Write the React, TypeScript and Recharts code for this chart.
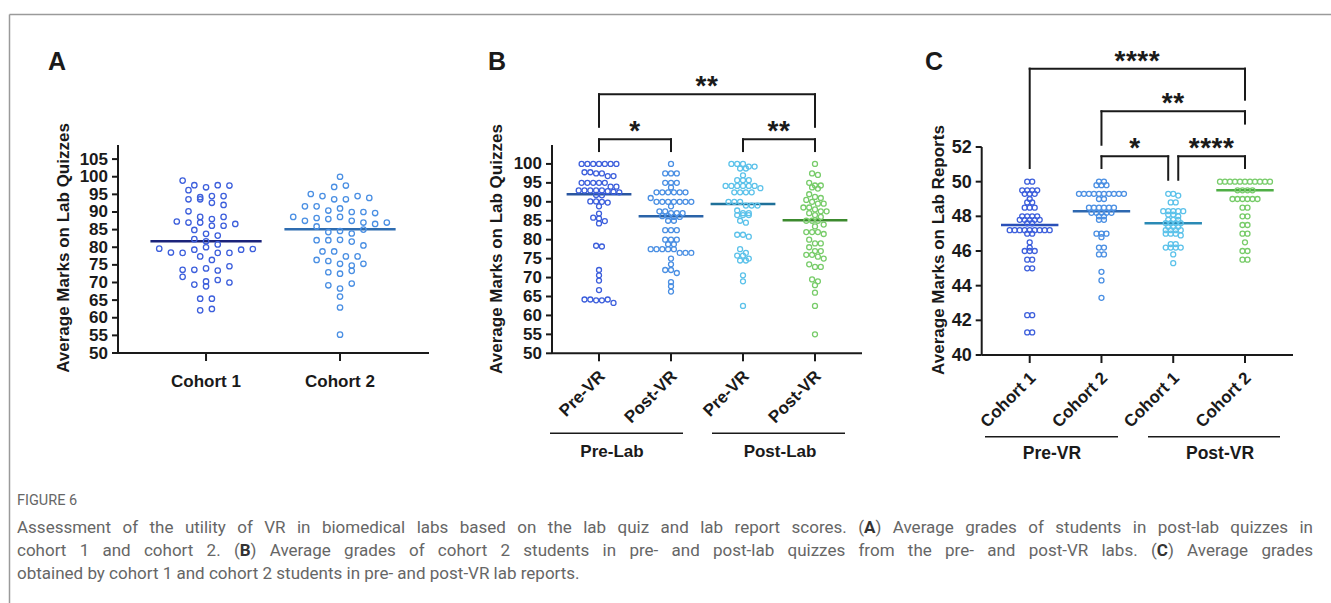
import React from "react";
import { ScatterChart, Scatter, XAxis, YAxis, ReferenceLine, ReferenceDot } from "recharts";

const FONT = "Arial, 'Liberation Sans', Helvetica, sans-serif";
const INK = "#1a1a1a";

// ---- Panel A: post-lab quiz averages by cohort ----
const quizCategories = ["Cohort 1", "Cohort 2"];
const quizCohort1 = [
  98.9, 97.6, 97.0, 97.6, 97.5, 96.2, 94.2, 93.6, 94.5, 93.6, 94.5, 92.6, 92.0, 90.2,
  88.6, 88.0, 88.6, 87.3, 87.0, 87.0, 86.1, 86.1, 86.6, 84.9, 83.8, 83.3, 82.3, 81.7,
  80.8, 79.6, 78.5, 78.4, 79.3, 80.0, 78.4, 78.4, 79.3, 79.5, 77.4, 76.4, 73.6, 73.6,
  74.0, 73.4, 74.6, 71.6, 69.4, 70.3, 68.9, 70.7, 70.0, 65.4, 65.4, 62.1, 62.5,
];
const quizCohort2 = [
  100, 97.1, 97.5, 95.1, 94.5, 93.6, 93.6, 94.5, 94.0, 91.6, 91.6, 90.4, 91.0, 90.0,
  90.0, 89.7, 88.6, 87.5, 88.3, 88.0, 88.6, 87.5, 87.0, 86.6, 85.9, 87.0, 84.3, 84.6,
  83.9, 85.0, 82.0, 82.0, 82.1, 81.6, 80.5, 78.8, 78.8, 76.4, 77.4, 77.4, 76.1, 75.3,
  74.8, 75.3, 72.9, 72.5, 73.3, 69.2, 68.3, 69.7, 66.0, 62.9, 55.2,
];
const quizMeans = [81.7, 85.1];
const quizTicks = [50, 55, 60, 65, 70, 75, 80, 85, 90, 95, 100, 105];

// ---- Panel B: pre/post-lab quizzes, pre/post-VR ----
const labCategories = ["Pre-VR", "Post-VR", "Pre-VR", "Post-VR"];
const preLabPreVR = [
  100, 100, 100, 100, 100, 100, 100, 97.8, 97.8, 97.5, 97.5, 96.8, 96.8, 95, 95, 95, 95,
  95, 94, 94, 93, 93, 93, 93, 93, 92.8, 92.6, 92.5, 91.8, 91.7, 90.1, 90.1, 90, 89.8,
  88.8, 86.9, 85.8, 85.6, 84.9, 84.3, 78.4, 78.2, 72, 70.6, 69.2, 66.7, 64.2, 64.2, 64,
  64, 64.2, 63.3,
];
const preLabPostVR = [
  100, 97.5, 97.5, 97.5, 95, 95, 95, 93.8, 92.5, 92.5, 92.5, 92.5, 92.5, 92.5, 91, 90,
  90, 90, 90, 90, 90, 90, 88.8, 87.5, 87.5, 87, 87, 87, 86.2, 86.2, 86, 86, 85, 85, 82.5,
  82.5, 82.5, 80, 80, 80, 78.8, 78.8, 77.5, 77.5, 77.5, 77.5, 77.5, 76.5, 76.5, 76.5, 75,
  73.5, 72, 72, 71.2, 68.8, 67.7, 66.3,
];
const postLabPreVR = [
  100, 100, 100, 99.3, 99.3, 98.8, 98.8, 97, 95.7, 95.7, 95.7, 94.2, 94.2, 94.2, 94.2,
  94.2, 94.2, 93.6, 92.5, 92.5, 92.5, 92.5, 90, 90, 90, 89, 89, 89, 87.7, 87, 87, 86.5,
  86.5, 86.5, 85, 84.5, 81.3, 81.3, 80.8, 77.5, 76.5, 75.8, 75.8, 75, 74.5, 74.5, 70.6,
  69, 62.5,
];
const postLabPostVR = [
  100, 97.5, 97.1, 95, 94.3, 94.3, 93.8, 93.5, 92, 91.3, 91, 90.5, 90, 89.5, 89.5, 88.5,
  88.5, 88, 87.5, 87.5, 87, 86.5, 86, 85, 85, 85, 84, 83.5, 82, 82, 82, 81.5, 80, 79, 79,
  78, 77, 77, 76, 76, 75.5, 75, 73.5, 72.8, 72.8, 69.5, 69, 68, 66, 62.5, 55,
];
const labMeans = [92.0, 86.2, 89.4, 85.1];
const labTicks = [50, 55, 60, 65, 70, 75, 80, 85, 90, 95, 100];
const labComparisons = [
  { from: 0, to: 1, level: 106.5, endFrom: 103.4, endTo: 103.4, label: "*" },
  { from: 2, to: 3, level: 106.5, endFrom: 103.4, endTo: 103.4, label: "**" },
  { from: 0, to: 3, level: 118.4, endFrom: 109.8, endTo: 109.8, label: "**" },
];

// ---- Panel C: lab reports, pre/post-VR by cohort ----
const reportCategories = ["Cohort 1", "Cohort 2", "Cohort 1", "Cohort 2"];
const preVRCohort1 = [
  50, 50, 49.5, 49.5, 49.5, 49.5, 49.3, 49.3, 49.3, 49, 48.8, 48.8, 48.5, 48.5, 48.5, 48,
  48, 48, 48, 47.8, 47.8, 47.8, 47.8, 47.8, 47.6, 47.6, 47.2, 47.2, 47.2, 47.2, 47.2,
  47.2, 47.2, 47.2, 47.2, 47, 47, 46.5, 46.2, 46, 46, 46, 45.5, 45.5, 45, 45, 42.3, 42.3,
  41.3, 41.3,
];
const preVRCohort2 = [
  50, 50, 49.8, 49.8, 49.8, 49.3, 49.3, 49.3, 49.3, 49.3, 49.3, 49.3, 49.3, 49.3, 49.3,
  49, 49, 48.5, 48.5, 48.5, 48.5, 48.5, 48.5, 48.2, 48.2, 48.2, 48.2, 48.2, 48, 48, 47.8,
  47.8, 47, 47, 47, 46.8, 46.2, 46.2, 45.8, 45.8, 44.8, 44.3, 43.3,
];
const postVRCohort1 = [
  49.3, 49.3, 49.2, 48.8, 48.8, 48.3, 48.3, 48.3, 48.3, 48.3, 48.1, 48.1, 48, 47.8, 47.8,
  47.8, 47.6, 47.6, 47.6, 47.6, 47.4, 47.4, 47.4, 47.2, 47.2, 47.2, 47.2, 47, 47, 47,
  46.9, 46.4, 46.4, 46.2, 46.2, 46.2, 46.2, 45.8, 45.3,
];
const postVRCohort2 = [
  50, 50, 50, 50, 50, 50, 50, 50, 50, 50, 50, 49.5, 49.5, 49.5, 49.5, 49, 49, 49, 49, 49,
  49, 48.5, 48.5, 48, 48, 47.5, 47.5, 47, 47, 46.5, 46, 46, 45.5, 45.5,
];
const reportMeans = [47.5, 48.3, 47.6, 49.5];
const reportTicks = [40, 42, 44, 46, 48, 50, 52];
const reportComparisons = [
  { from: 0, to: 3, level: 56.52, endFrom: 50.79, endTo: 54.73, label: "****" },
  { from: 1, to: 3, level: 54.06, endFrom: 52.13, endTo: 53.35, label: "**" },
  { from: 1, to: 2, level: 51.46, endFrom: 50.79, endTo: 50.11, label: "*", shiftTo: -0.07 },
  { from: 2, to: 3, level: 51.46, endFrom: 50.11, endTo: 50.79, label: "****", shiftFrom: 0.07 },
];

const Y_AXIS_W = 60;
const X_AXIS_H = 30;

type Comparison = {
  from: number;
  to: number;
  level: number;
  endFrom: number;
  endTo: number;
  label: string;
  shiftFrom?: number;
  shiftTo?: number;
};

// rows of near-equal values spread sideways, like a column scatter plot
function swarm(values: number[], slot: number, pxX: number, pxY: number, stepPx: number, binPx: number) {
  const sorted = values.map((v, i) => ({ v, i })).sort((a, b) => b.v - a.v);
  const rows: { v: number; i: number }[][] = [];
  for (const p of sorted) {
    const row = rows[rows.length - 1];
    if (row && (row[0].v - p.v) * pxY <= binPx) row.push(p);
    else rows.push([p]);
  }
  const out: { x: number; y: number }[] = [];
  for (const row of rows) {
    row.sort((a, b) => a.i - b.i);
    row.forEach((p, k) => out.push({ x: slot + ((k - (row.length - 1) / 2) * stepPx) / pxX, y: p.v }));
  }
  return out;
}

type PanelProps = {
  left: number;
  width: number;
  height: number;
  margin: { top: number; right: number; bottom: number; left: number };
  xDomain: [number, number];
  yDomain: [number, number];
  yTicks: number[];
  categories: string[];
  groups: number[][];
  means: number[];
  meanHalf: number;
  colors: string[];
  meanColors: string[];
  comparisons: Comparison[];
  rotated: boolean;
  stepPx: number;
  binPx: number;
  radius: number;
  tickFont: number;
};

function SwarmPanel(p: PanelProps) {
  const plotW = p.width - p.margin.left - p.margin.right - Y_AXIS_W;
  const plotH = p.height - p.margin.top - p.margin.bottom - X_AXIS_H;
  const pxX = plotW / (p.xDomain[1] - p.xDomain[0]);
  const pxY = plotH / (p.yDomain[1] - p.yDomain[0]);

  const YTick = ({ x, y, payload }: any) => (
    <text x={x} y={y} textAnchor="end" dominantBaseline="central" fontSize={p.tickFont} fontWeight="bold" fill={INK} fontFamily={FONT}>
      {payload.value}
    </text>
  );

  const XTick = ({ x, y, payload }: any) => {
    const name = p.categories[Math.round(payload.value)];
    if (p.rotated) {
      const ax = x + 7;
      const ay = y + 16;
      return (
        <text x={ax} y={ay} transform={`rotate(-45 ${ax} ${ay})`} textAnchor="end" fontSize={17} fontWeight="bold" fill={INK} fontFamily={FONT}>
          {name}
        </text>
      );
    }
    return (
      <text x={x} y={y + 26} textAnchor="middle" fontSize={17} fontWeight="bold" fill={INK} fontFamily={FONT}>
        {name}
      </text>
    );
  };

  return (
    <div style={{ position: "absolute", left: p.left, top: 0 }}>
      <ScatterChart width={p.width} height={p.height} margin={p.margin}>
        <XAxis
          type="number"
          dataKey="x"
          domain={p.xDomain}
          ticks={p.categories.map((_, i) => i)}
          allowDataOverflow
          height={X_AXIS_H}
          tickSize={8}
          tickMargin={0}
          tick={<XTick />}
          axisLine={{ stroke: INK, strokeWidth: 2 }}
          tickLine={{ stroke: INK, strokeWidth: 2 }}
        />
        <YAxis
          type="number"
          dataKey="y"
          domain={p.yDomain}
          ticks={p.yTicks}
          allowDataOverflow
          interval={0}
          width={Y_AXIS_W}
          tickSize={6}
          tickMargin={4}
          tick={<YTick />}
          axisLine={{ stroke: INK, strokeWidth: 2 }}
          tickLine={{ stroke: INK, strokeWidth: 2 }}
        />
        {p.groups.map((vals, i) => (
          <Scatter
            key={i}
            data={swarm(vals, i, pxX, pxY, p.stepPx, p.binPx)}
            isAnimationActive={false}
            shape={(s: any) => (
              <circle cx={s.cx} cy={s.cy} r={p.radius} fill="none" stroke={p.colors[i]} strokeWidth={1.3} />
            )}
          />
        ))}
        {p.means.map((m, i) => (
          <ReferenceLine
            key={`m${i}`}
            segment={[
              { x: i - p.meanHalf, y: m },
              { x: i + p.meanHalf, y: m },
            ]}
            stroke={p.meanColors[i]}
            strokeWidth={2.5}
            ifOverflow="visible"
          />
        ))}
        {p.comparisons.map((c, k) => {
          const a = c.from + (c.shiftFrom ?? 0);
          const b = c.to + (c.shiftTo ?? 0);
          const line = { stroke: INK, strokeWidth: 2, strokeLinecap: "square" as const, ifOverflow: "visible" as const };
          return [
            <ReferenceLine key={`l${k}`} segment={[{ x: a, y: c.endFrom }, { x: a, y: c.level }]} {...line} />,
            <ReferenceLine key={`h${k}`} segment={[{ x: a, y: c.level }, { x: b, y: c.level }]} {...line} />,
            <ReferenceLine key={`r${k}`} segment={[{ x: b, y: c.level }, { x: b, y: c.endTo }]} {...line} />,
            <ReferenceDot
              key={`t${k}`}
              x={(a + b) / 2}
              y={c.level}
              r={0}
              ifOverflow="visible"
              shape={(d: any) => (
                <text x={d.cx} y={d.cy + 1} textAnchor="middle" fontSize={28} fontWeight="bold" fill={INK} fontFamily={FONT} letterSpacing={0.5}>
                  {c.label}
                </text>
              )}
            />,
          ];
        })}
      </ScatterChart>
    </div>
  );
}

const blueDots = ["#3d5fdc", "#4a8fe3", "#5cc2ea", "#78cc6a"];

export default function App() {
  const txt = { fontFamily: FONT, fontWeight: "bold" as const, fill: INK };
  return (
    <div style={{ position: "absolute", left: 0, top: 0, width: 1331, height: 603, background: "#fff", overflow: "hidden" }}>
      <SwarmPanel
        left={0}
        width={450}
        height={420}
        margin={{ top: 145, right: 21, bottom: 37, left: 58 }}
        xDomain={[-0.657, 1.664]}
        yDomain={[50, 109]}
        yTicks={quizTicks}
        categories={quizCategories}
        groups={[quizCohort1, quizCohort2]}
        means={quizMeans}
        meanHalf={0.415}
        colors={["#3d5fdc", "#4a8fe3"]}
        meanColors={["#1b237a", "#2e6cb0"]}
        comparisons={[]}
        rotated={false}
        stepPx={11.7}
        binPx={8}
        radius={2.7}
        tickFont={17}
      />
      <SwarmPanel
        left={460}
        width={420}
        height={470}
        margin={{ top: 145, right: 18, bottom: 86.7, left: 32 }}
        xDomain={[-0.653, 3.653]}
        yDomain={[50, 105]}
        yTicks={labTicks}
        categories={labCategories}
        groups={[preLabPreVR, preLabPostVR, postLabPreVR, postLabPostVR]}
        means={labMeans}
        meanHalf={0.45}
        colors={blueDots}
        meanColors={["#2a56a0", "#2a63a8", "#1f7099", "#3c8a2e"]}
        comparisons={labComparisons}
        rotated={true}
        stepPx={5.8}
        binPx={4}
        radius={2.5}
        tickFont={17}
      />
      <SwarmPanel
        left={900}
        width={420}
        height={470}
        margin={{ top: 147, right: 27, bottom: 85, left: 21.7 }}
        xDomain={[-0.669, 3.669]}
        yDomain={[40, 52]}
        yTicks={reportTicks}
        categories={reportCategories}
        groups={[preVRCohort1, preVRCohort2, postVRCohort1, postVRCohort2]}
        means={reportMeans}
        meanHalf={0.4}
        colors={blueDots}
        meanColors={["#2a4fb8", "#2e68b0", "#2a8ab5", "#4fae45"]}
        comparisons={reportComparisons}
        rotated={true}
        stepPx={5}
        binPx={3}
        radius={2.5}
        tickFont={18}
      />

      <svg width={1331} height={603} style={{ position: "absolute", left: 0, top: 0, pointerEvents: "none" }}>
        <line x1={9.5} y1={14.5} x2={1331} y2={14.5} stroke="#9a9a9a" strokeWidth={1.5} />
        <line x1={9.5} y1={14.5} x2={9.5} y2={603} stroke="#9a9a9a" strokeWidth={1.5} />

        <text x={48} y={70} fontSize={25} {...txt}>A</text>
        <text x={488} y={70} fontSize={25} {...txt}>B</text>
        <text x={925} y={70} fontSize={25} {...txt}>C</text>

        <text x={69} y={248} fontSize={17} textAnchor="middle" transform="rotate(-90 69 248)" {...txt}>
          Average Marks on Lab Quizzes
        </text>
        <text x={502} y={249} fontSize={17} textAnchor="middle" transform="rotate(-90 502 249)" {...txt}>
          Average Marks on Lab Quizzes
        </text>
        <text x={944} y={250} fontSize={17} textAnchor="middle" transform="rotate(-90 944 250)" {...txt}>
          Average Marks on Lab Reports
        </text>

        <line x1={550} y1={433.3} x2={683} y2={433.3} stroke={INK} strokeWidth={1.5} />
        <line x1={712} y1={433.3} x2={845} y2={433.3} stroke={INK} strokeWidth={1.5} />
        <text x={612} y={457} fontSize={17} textAnchor="middle" {...txt}>Pre-Lab</text>
        <text x={780} y={457} fontSize={17} textAnchor="middle" {...txt}>Post-Lab</text>

        <line x1={985} y1={436.7} x2={1118} y2={436.7} stroke={INK} strokeWidth={1.5} />
        <line x1={1148} y1={436.7} x2={1280} y2={436.7} stroke={INK} strokeWidth={1.5} />
        <text x={1052} y={459} fontSize={17.5} textAnchor="middle" {...txt}>Pre-VR</text>
        <text x={1220} y={459} fontSize={17.5} textAnchor="middle" {...txt}>Post-VR</text>
      </svg>

      <div style={{ position: "absolute", left: 17, top: 491, fontFamily: "Roboto, sans-serif", fontSize: 14.5, lineHeight: "20px", color: "#666" }}>
        FIGURE 6
      </div>
      <div style={{ position: "absolute", left: 17, top: 515.5, width: 1296, fontFamily: "Roboto, sans-serif", fontSize: 17, lineHeight: "23px", color: "#666" }}>
        <div style={{ textAlign: "justify", textAlignLast: "justify" }}>
          Assessment of the utility of VR in biomedical labs based on the lab quiz and lab report scores. (<b style={{ color: "#333" }}>A</b>) Average grades of students in post-lab quizzes in
        </div>
        <div style={{ textAlign: "justify", textAlignLast: "justify" }}>
          cohort 1 and cohort 2. (<b style={{ color: "#333" }}>B</b>) Average grades of cohort 2 students in pre- and post-lab quizzes from the pre- and post-VR labs. (<b style={{ color: "#333" }}>C</b>) Average grades
        </div>
        <div>obtained by cohort 1 and cohort 2 students in pre- and post-VR lab reports.</div>
      </div>
    </div>
  );
}
